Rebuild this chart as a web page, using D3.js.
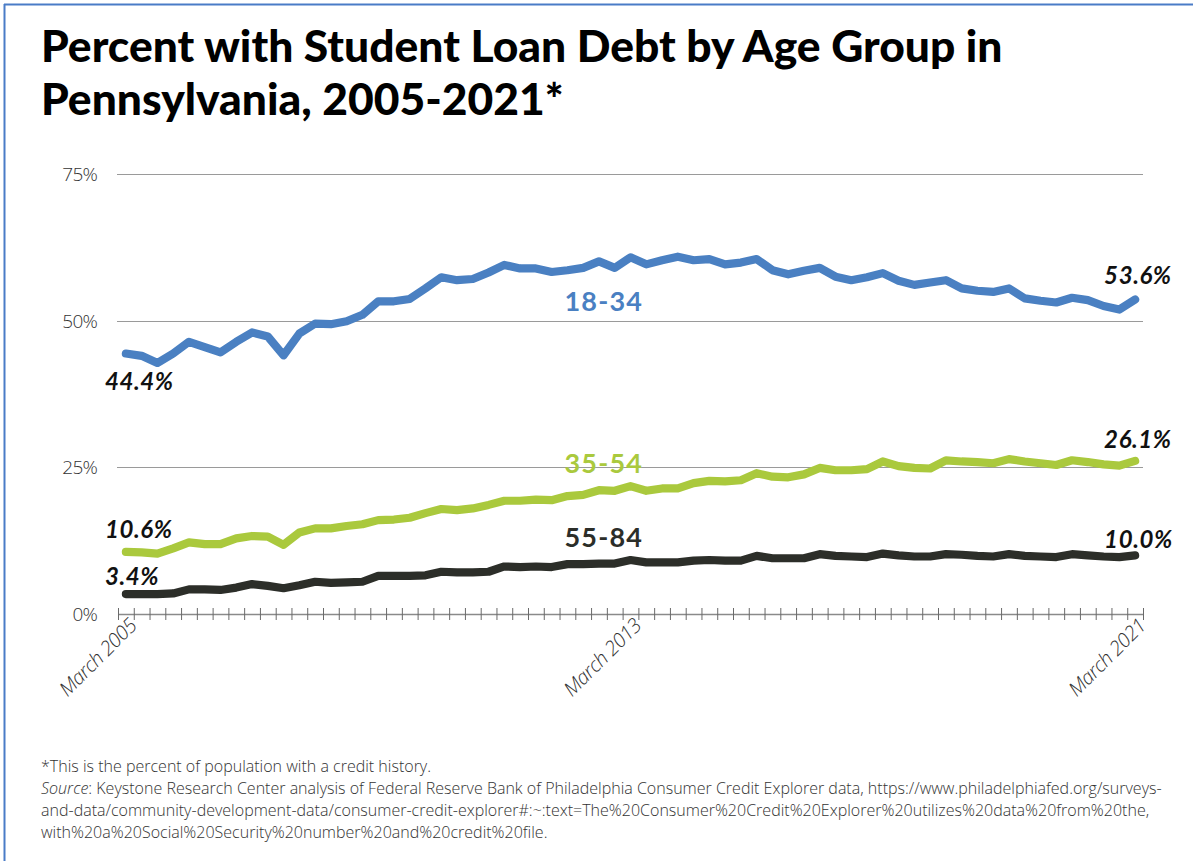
<!DOCTYPE html>
<html>
<head>
<meta charset="utf-8">
<script src="https://cdn.jsdelivr.net/npm/d3@7"></script>
<style>
  html, body { margin: 0; padding: 0; background: #fff; }
  svg { display: block; }
</style>
</head>
<body>
<svg id="chart" width="1193" height="861"></svg>
<script>
// Quarterly periods, March 2005 through March 2021
const months = ["March", "June", "September", "December"];
const quarters = [];
for (let yr = 2005; yr <= 2021; yr++) for (const m of months) quarters.push(m + " " + yr);
quarters.length = 65;

// Share of residents (with a credit file) holding student loan debt, %
const age18to34 = [44.4,44.0,42.8,44.4,46.4,45.5,44.6,46.4,48.0,47.3,44.1,47.8,49.5,49.4,49.9,51.0,53.3,53.3,53.7,55.5,57.4,56.9,57.1,58.2,59.5,58.9,58.9,58.3,58.6,59.0,60.1,59.0,60.8,59.6,60.3,60.9,60.3,60.5,59.6,59.9,60.5,58.6,57.9,58.5,59.0,57.5,56.9,57.4,58.1,56.8,56.1,56.5,56.9,55.5,55.1,54.9,55.5,53.8,53.4,53.1,53.9,53.5,52.5,51.9,53.6];
const age35to54 = [10.6,10.5,10.3,11.2,12.2,11.9,11.9,12.9,13.3,13.2,11.8,13.9,14.6,14.6,15.0,15.3,16.0,16.1,16.4,17.2,17.9,17.7,18.0,18.6,19.3,19.3,19.5,19.4,20.1,20.3,21.1,21.0,21.8,21.0,21.4,21.4,22.3,22.7,22.6,22.8,24.0,23.4,23.3,23.8,24.9,24.5,24.5,24.7,26.0,25.2,24.9,24.8,26.2,26.0,25.9,25.7,26.4,26.0,25.7,25.4,26.2,25.9,25.5,25.3,26.1];
const age55to84 = [3.4,3.4,3.4,3.5,4.2,4.2,4.1,4.5,5.1,4.8,4.4,4.9,5.5,5.3,5.4,5.5,6.5,6.5,6.5,6.6,7.2,7.1,7.1,7.2,8.1,8.0,8.1,8.0,8.5,8.5,8.6,8.6,9.2,8.8,8.8,8.8,9.1,9.2,9.1,9.1,9.9,9.5,9.5,9.5,10.2,9.9,9.8,9.7,10.3,10.0,9.8,9.8,10.2,10.1,9.9,9.8,10.2,9.9,9.8,9.7,10.2,10.0,9.8,9.7,10.0];

const seriesNames = ["18-34", "35-54", "55-84"];
const seriesColors = ["#4a80c2", "#aac93d", "#2c2e29"];
const yTicks = [0, 25, 50, 75];
const xTickLabels = ["March 2005", "March 2013", "March 2021"];

const svg = d3.select("#chart");

// frame edges
svg.append("line").attr("x1", 4).attr("x2", 1193).attr("y1", 4.5).attr("y2", 4.5)
  .attr("stroke", "#4a7cc7").attr("stroke-width", 2);
svg.append("line").attr("x1", 4.5).attr("x2", 4.5).attr("y1", 4).attr("y2", 861)
  .attr("stroke", "#4a7cc7").attr("stroke-width", 2);

// title
const titleLines = ["Percent with Student Loan Debt by Age Group in", "Pennsylvania, 2005-2021*"];
const title = svg.append("g").attr("font-family", "Lato, 'Open Sans', sans-serif")
  .attr("font-weight", 900).attr("fill", "#000");
const t1 = title.append("text").attr("x", 41).attr("y", 62).attr("font-size", 35).text(titleLines[0]);
const w1 = t1.node().getComputedTextLength();
const titleSize = 35 * 962 / w1;
t1.attr("font-size", titleSize);
title.append("text").attr("x", 41).attr("y", 115).attr("font-size", titleSize).text(titleLines[1]);

// scales
const x = d3.scaleLinear().domain([-0.5, quarters.length - 0.5]).range([118, 1143]);
const y = d3.scaleLinear().domain([0, 75]).range([614, 174]);

const light = "'Open Sans', sans-serif";

// gridlines
svg.append("g").selectAll("line").data(yTicks.filter(d => d > 0)).join("line")
  .attr("x1", 117).attr("x2", 1143)
  .attr("y1", d => Math.round(y(d)) + 0.5).attr("y2", d => Math.round(y(d)) + 0.5)
  .attr("stroke", "#9a9a9a").attr("stroke-width", 1);

// y tick labels
svg.append("g").selectAll("text").data(yTicks).join("text")
  .attr("x", 97).attr("y", d => y(d) + 7)
  .attr("text-anchor", "end")
  .attr("font-family", light).attr("font-weight", 300)
  .attr("font-size", 19).attr("letter-spacing", -0.8).attr("fill", "#333")
  .text(d => d + "%");

// x axis with ticks at quarter boundaries
const xAxis = d3.axisBottom(x)
  .tickValues(d3.range(-0.5, quarters.length, 1))
  .tickSizeInner(6).tickSizeOuter(0).tickFormat("");
const gx = svg.append("g").attr("transform", "translate(0,614)").call(xAxis);
gx.select(".domain").attr("stroke", "#8a8a8a").attr("stroke-width", 1.5);
gx.selectAll(".tick line").attr("y1", -6).attr("y2", 6).attr("stroke", "#6a6a6a");

// rotated quarter labels
svg.append("g").selectAll("text").data(xTickLabels).join("text")
  .attr("transform", d => `translate(${x(quarters.indexOf(d)) + 12},${627}) rotate(-45)`)
  .attr("text-anchor", "end")
  .attr("font-family", light).attr("font-weight", 300)
  .attr("font-style", "italic").attr("font-size", 20).attr("letter-spacing", -0.5).attr("fill", "#333")
  .text(d => d);

// lines
const line = d3.line().x((d, i) => x(i)).y(d => y(d)).curve(d3.curveLinear);
const allSeries = [age18to34, age35to54, age55to84];
svg.append("g").selectAll("path").data(allSeries).join("path")
  .attr("d", line)
  .attr("fill", "none")
  .attr("stroke", (d, i) => seriesColors[i])
  .attr("stroke-width", 8.2)
  .attr("stroke-linejoin", "round")
  .attr("stroke-linecap", "round");

// series names
const nameSpots = [{i: 28, v: 51.6}, {i: 28, v: 24.0}, {i: 28, v: 11.4}];
svg.append("g").selectAll("text").data(seriesNames).join("text")
  .attr("x", (d, k) => x(nameSpots[k].i) - 3)
  .attr("y", (d, k) => y(nameSpots[k].v))
  .attr("font-family", "Lato, sans-serif").attr("font-weight", 700)
  .attr("font-size", 27).attr("letter-spacing", 1.2)
  .attr("fill", (d, k) => seriesColors[k])
  .text(d => d);

// start and end values
const lastIdx = quarters.length - 1;
const valueLabels = [
  {i: 0, v: age18to34[0], dy: 36},
  {i: 0, v: age35to54[0], dy: -14},
  {i: 0, v: age55to84[0], dy: -9},
  {i: lastIdx, v: age18to34[lastIdx], dy: -16},
  {i: lastIdx, v: age35to54[lastIdx], dy: -13},
  {i: lastIdx, v: age55to84[lastIdx], dy: -7}
];
svg.append("g").selectAll("text").data(valueLabels).join("text")
  .attr("x", d => d.i === 0 ? x(d.i) - 21 : x(d.i) - 31)
  .attr("y", d => y(d.v) + d.dy)
  .attr("font-family", "Lato, sans-serif").attr("font-weight", 700).attr("font-style", "italic")
  .attr("font-size", 24).attr("letter-spacing", 0.6).attr("fill", "#111")
  .text(d => d.v.toFixed(1) + "%");

// notes
const notes = svg.append("g").attr("font-family", light).attr("font-weight", 300)
  .attr("font-size", 16).attr("fill", "#333");
const n1 = notes.append("text").attr("x", 41).attr("y", 772)
  .text("*This is the percent of population with a credit history.");
const n2 = notes.append("text").attr("x", 41).attr("y", 794);
n2.append("tspan").attr("font-style", "italic").text("Source");
n2.append("tspan").text(": Keystone Research Center analysis of Federal Reserve Bank of Philadelphia Consumer Credit Explorer data, https://www.philadelphiafed.org/surveys-");
const n3 = notes.append("text").attr("x", 41).attr("y", 816)
  .text("and-data/community-development-data/consumer-credit-explorer#:~:text=The%20Consumer%20Credit%20Explorer%20utilizes%20data%20from%20the,");
const n4 = notes.append("text").attr("x", 41).attr("y", 838)
  .text("with%20a%20Social%20Security%20number%20and%20credit%20file.");

// size the notes so the long source line spans the text column
const noteSize = Math.min(16.5, 16 * 1121 / n2.node().getComputedTextLength());
notes.attr("font-size", noteSize);
</script>
</body>
</html>
